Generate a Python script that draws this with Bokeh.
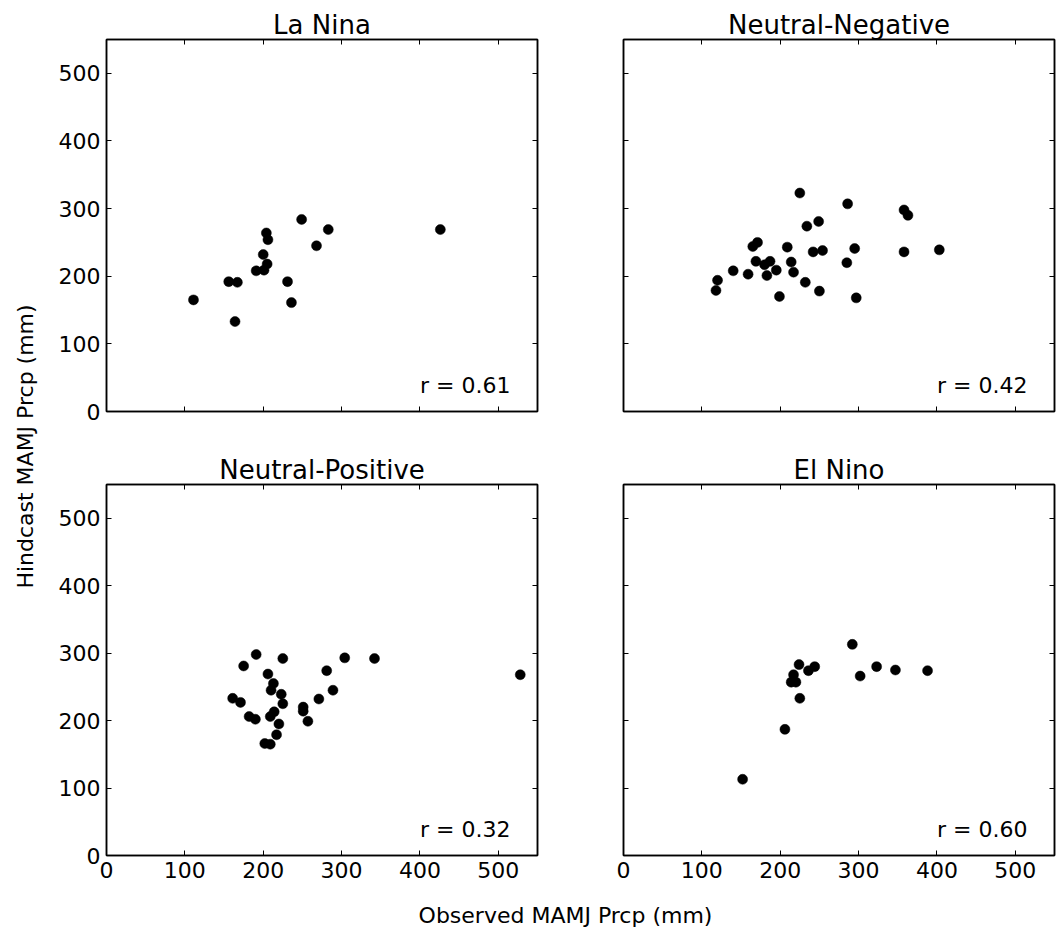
import math
from bokeh.plotting import figure
from bokeh.models import Range1d, FixedTicker, LinearAxis, Label, CustomJSTickFormatter
from bokeh.layouts import row, column
from bokeh.embed import file_html
from bokeh.resources import INLINE

# ---------------- data ----------------
titles = ["La Nina", "Neutral-Negative", "Neutral-Positive", "El Nino"]
r_values = [0.61, 0.42, 0.32, 0.60]

la_nina_obs = [111, 156, 167, 164, 191, 201, 205, 200, 204, 206, 231, 236, 249, 268, 283, 426]
la_nina_hind = [165, 192, 191, 133, 208, 209, 218, 232, 264, 254, 192, 161, 284, 245, 269, 269]

neutral_neg_obs = [225, 286, 358, 363, 249, 234, 171, 165, 209, 242, 254, 295, 358, 403, 169,
                   180, 187, 214, 285, 140, 159, 183, 195, 217, 120, 118, 232, 250, 199, 297]
neutral_neg_hind = [323, 307, 298, 290, 281, 274, 250, 244, 243, 236, 238, 241, 236, 239, 222,
                    217, 222, 221, 220, 208, 203, 201, 209, 206, 194, 179, 191, 178, 170, 168]

neutral_pos_obs = [191, 175, 225, 304, 342, 528, 206, 281, 213, 210, 223, 289, 161, 171, 225,
                   271, 251, 251, 214, 209, 182, 190, 257, 220, 217, 202, 209]
neutral_pos_hind = [298, 281, 292, 293, 292, 268, 269, 274, 255, 245, 239, 245, 233, 227, 225,
                    232, 220, 214, 213, 206, 206, 202, 199, 195, 179, 166, 165]

el_nino_obs = [292, 224, 244, 236, 323, 347, 388, 302, 217, 214, 220, 225, 206, 152]
el_nino_hind = [313, 283, 280, 274, 280, 275, 274, 266, 268, 257, 257, 233, 187, 113]

axis_ticks = [0, 100, 200, 300, 400, 500]
axis_min, axis_max = 0, 550

x_label = "Observed MAMJ Prcp (mm)"
y_label = "Hindcast MAMJ Prcp (mm)"

FONT = "DejaVu Sans"
TICK_SIZE = "22px"
TITLE_SIZE = "26px"

series = [
    (la_nina_obs, la_nina_hind),
    (neutral_neg_obs, neutral_neg_hind),
    (neutral_pos_obs, neutral_pos_hind),
    (el_nino_obs, el_nino_hind),
]


def style_axis(ax, show_labels):
    ax.ticker = FixedTicker(ticks=axis_ticks)
    ax.major_tick_in = 5
    ax.major_tick_out = 0
    ax.minor_tick_in = 0
    ax.minor_tick_out = 0
    ax.major_tick_line_color = "black"
    ax.major_tick_line_width = 1
    ax.axis_line_color = "black"
    ax.axis_line_width = 1.5
    ax.major_label_text_font = FONT
    ax.major_label_text_color = "black"
    if show_labels:
        ax.major_label_text_font_size = TICK_SIZE
        ax.major_label_standoff = 6
    else:
        ax.formatter = CustomJSTickFormatter(code="return ''")
        ax.major_label_text_font_size = "2px"
        ax.major_label_standoff = 0


def make_panel(i):
    left_col = (i % 2 == 0)
    bottom_row = (i >= 2)
    width = 530 if left_col else 480
    height = 447 if not bottom_row else 448
    p = figure(width=width, height=height, output_backend="svg", toolbar_location=None,
               x_range=Range1d(axis_min, axis_max), y_range=Range1d(axis_min, axis_max),
               x_axis_location=None, y_axis_location=None)
    p.min_border_left = 56 if left_col else 43
    p.min_border_right = 43 if left_col else 6
    p.min_border_top = 39 if not bottom_row else 37
    p.min_border_bottom = 36 if not bottom_row else 40
    p.xgrid.visible = False
    p.ygrid.visible = False
    p.outline_line_color = "black"
    p.outline_line_width = 1.5
    p.background_fill_color = "white"
    p.border_fill_color = "white"

    p.title.text = titles[i]
    p.title.align = "center"
    p.title.text_font = FONT
    p.title.text_font_size = TITLE_SIZE
    p.title.text_font_style = "normal"
    p.title.text_color = "black"
    p.title.standoff = 0

    left = LinearAxis()
    style_axis(left, left_col)
    p.add_layout(left, "left")
    bottom = LinearAxis()
    style_axis(bottom, bottom_row)
    p.add_layout(bottom, "below")
    right = LinearAxis()
    style_axis(right, False)
    p.add_layout(right, "right")
    top = LinearAxis()
    style_axis(top, False)
    p.add_layout(top, "above")

    obs, hind = series[i]
    p.scatter(obs, hind, size=10, marker="circle", fill_color="black", line_color="black",
              line_width=0.5)

    p.add_layout(Label(x=400, y=20, text=f"r = {r_values[i]:.2f}", text_font=FONT,
                       text_font_size=TICK_SIZE, text_align="left",
                       text_baseline="bottom", text_color="black"))
    return p


panels = [make_panel(i) for i in range(4)]

# shared y-axis label
ylab = figure(width=50, height=895, output_backend="svg", toolbar_location=None,
              x_range=Range1d(0, 50), y_range=Range1d(895, 0),
              x_axis_location=None, y_axis_location=None, min_border=0)
ylab.xgrid.visible = False
ylab.ygrid.visible = False
ylab.outline_line_color = None
ylab.add_layout(Label(x=25, y=446, text=y_label, angle=math.pi / 2, text_font=FONT,
                      text_font_size=TICK_SIZE, text_align="center", text_baseline="middle",
                      text_color="black"))

# shared x-axis label
xlab = figure(width=1060, height=35, output_backend="svg", toolbar_location=None,
              x_range=Range1d(0, 1060), y_range=Range1d(930, 895),
              x_axis_location=None, y_axis_location=None, min_border=0)
xlab.xgrid.visible = False
xlab.ygrid.visible = False
xlab.outline_line_color = None
xlab.add_layout(Label(x=565, y=915, text=x_label, text_font=FONT,
                      text_font_size=TICK_SIZE, text_align="center", text_baseline="middle",
                      text_color="black"))

layout = column(
    row(ylab, column(row(panels[0], panels[1]), row(panels[2], panels[3]))),
    xlab,
)

open("out.html", "w").write(file_html(layout, INLINE))
